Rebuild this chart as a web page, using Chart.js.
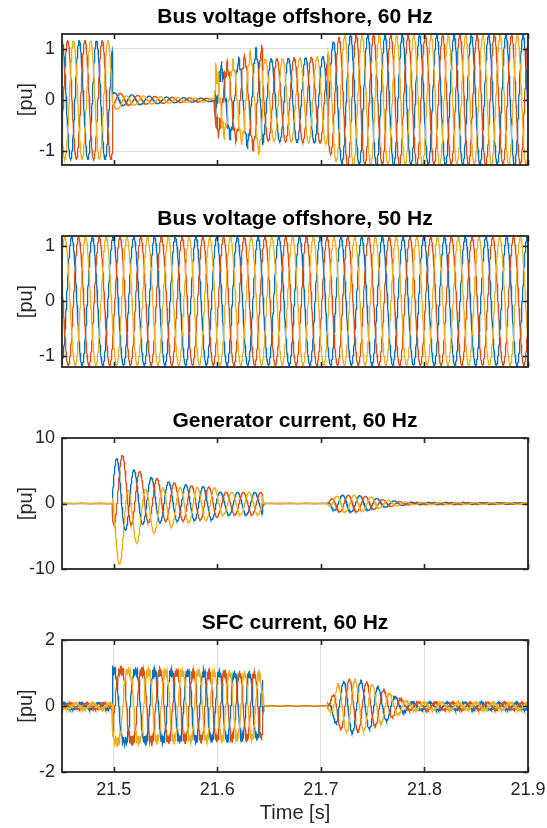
<!DOCTYPE html>
<html>
<head>
<meta charset="utf-8">
<script src="https://cdn.jsdelivr.net/npm/chart.js@4.4.1/dist/chart.umd.min.js"></script>
<style>
  html, body { margin: 0; padding: 0; background: #fff; }
  #wrap { position: relative; width: 547px; height: 828px; }
  canvas { position: absolute; left: 0; }
</style>
</head>
<body>
<div id="wrap">
  <canvas id="c1" width="547" height="202" style="top:0"></canvas>
  <canvas id="c2" width="547" height="202" style="top:202px"></canvas>
  <canvas id="c3" width="547" height="202" style="top:404px"></canvas>
  <canvas id="c4" width="547" height="222" style="top:606px"></canvas>
</div>
<script>
// time axis
const T_START = 21.45, T_END = 21.9, DT = 0.0002;
const xTicks = [21.5, 21.6, 21.7, 21.8, 21.9];
const phaseColors = ['#0072BD', '#D95319', '#EDB120'];

// ---- Bus voltage offshore, 60 Hz ----
const bus60Title = 'Bus voltage offshore, 60 Hz';
const bus60YRange = [-1.27, 1.29];
const bus60YTicks = [-1, 0, 1];
const bus60SegStart = [21.45, 21.4985, 21.598, 21.644, 21.707];
const bus60SegPeak  = [21.450, 21.5010, 21.6040, 21.6520, 21.7120]; // blue crest per segment
const bus60FreqT = [21.45, 21.9];
const bus60FreqV = [60, 60];
const bus60AmpT = [21.45, 21.4984, 21.4986, 21.53, 21.56, 21.597, 21.5985, 21.62, 21.643, 21.6445, 21.706, 21.7075, 21.714, 21.725, 21.9];
const bus60AmpV = [1.16, 1.16, 0.13, 0.08, 0.05, 0.03, 0.55, 0.75, 1.0, 0.8, 0.85, 1.0, 1.2, 1.27, 1.27];
const bus60OffT = [21.45, 21.4984, 21.4986, 21.52, 21.9];
const bus60OffV = [[0, 0, 0.02, 0, 0], [0, 0, 0.02, 0, 0], [0, 0, -0.07, 0, 0]];
const bus60RipT = [21.45, 21.5979, 21.598, 21.612, 21.6435, 21.6445, 21.9];
const bus60RipV = [0, 0, 0.2, 0.1, 0.08, 0, 0];
const bus60RipH = 7;

// ---- Bus voltage offshore, 50 Hz ----
const bus50Title = 'Bus voltage offshore, 50 Hz';
const bus50YRange = [-1.19, 1.18];
const bus50YTicks = [-1, 0, 1];
const bus50SegStart = [21.45];
const bus50SegPeak  = [21.4594];
const bus50FreqT = [21.45, 21.9];
const bus50FreqV = [50, 50];
const bus50AmpT = [21.45, 21.9];
const bus50AmpV = [1.16, 1.16];

// ---- Generator current, 60 Hz ----
const genTitle = 'Generator current, 60 Hz';
const genYRange = [-10, 10];
const genYTicks = [-10, 0, 10];
const genSegStart = [21.45, 21.4985, 21.644, 21.706];
const genSegPeak  = [21.450, 21.5030, 21.6500, 21.7210];
const genFreqT = [21.45, 21.9];
const genFreqV = [60, 60];
const genAmpT = [21.45, 21.4984, 21.4986, 21.51, 21.52, 21.53, 21.54, 21.55, 21.56, 21.57, 21.58, 21.598, 21.6015, 21.6435, 21.6445, 21.706, 21.712, 21.72, 21.735, 21.748, 21.76, 21.775, 21.79, 21.9];
const genAmpV = [0.03, 0.03, 6.0, 5.2, 4.3, 3.7, 3.4, 3.1, 2.9, 2.75, 2.6, 2.45, 1.75, 1.7, 0.02, 0.02, 1.0, 1.3, 1.25, 1.0, 0.6, 0.3, 0.18, 0.12];
const genOffT = [21.45, 21.4984, 21.4986, 21.52, 21.54, 21.57, 21.6, 21.9];
const genOffV = [
  [0, 0, 1.3, 0.8, 0.4, 0.1, 0, 0],
  [0, 0, 2.9, 1.1, 0.5, 0.1, 0, 0],
  [0, 0, -4.6, -2.0, -1.0, -0.2, 0, 0]
];

// ---- SFC current, 60 Hz ----
const sfcTitle = 'SFC current, 60 Hz';
const sfcYRange = [-2, 2];
const sfcYTicks = [-2, 0, 2];
const sfcSegStart = [21.45, 21.4985, 21.644, 21.707];
const sfcSegPeak  = [21.452, 21.4990, 21.650, 21.722];
const sfcFreqT = [21.45, 21.4984, 21.4986, 21.54, 21.643, 21.644, 21.9];
const sfcFreqV = [60, 60, 40, 60, 72, 60, 60];
const sfcAmpT = [21.45, 21.4984, 21.4986, 21.52, 21.6, 21.6435, 21.6445, 21.706, 21.709, 21.716, 21.728, 21.745, 21.76, 21.772, 21.785, 21.9];
const sfcAmpV = [0.09, 0.09, 1.1, 1.05, 1.0, 0.95, 0.01, 0.01, 0.15, 0.65, 0.82, 0.72, 0.5, 0.28, 0.12, 0.1];
const sfcFlatT = [21.45, 21.4984, 21.4986, 21.6435, 21.6445, 21.9];
const sfcFlatV = [0, 0, 1.6, 1.0, 0, 0];
const sfcRipT = [21.45, 21.4984, 21.4986, 21.6435, 21.6445, 21.706, 21.71, 21.9];
const sfcRipV = [0.03, 0.03, 0.13, 0.1, 0, 0, 0.03, 0.03];
const sfcRipH = 11;

function lerp(ts, vs, t) {
  if (t <= ts[0]) return vs[0];
  for (let i = 0; i < ts.length - 1; i++) {
    if (t <= ts[i + 1]) return vs[i] + (vs[i + 1] - vs[i]) * (t - ts[i]) / (ts[i + 1] - ts[i]);
  }
  return vs[vs.length - 1];
}

function segIndex(starts, t) {
  let k = 0;
  while (k + 1 < starts.length && t >= starts[k + 1]) k++;
  return k;
}

// one phase of a three-phase trace, built from the envelope knots above
function phaseTrace(cfg, p) {
  const pts = [];
  const n = Math.round((T_END - T_START) / DT);
  let seg = -1, theta = 0;
  for (let i = 0; i <= n; i++) {
    const t = T_START + i * DT;
    const f = lerp(cfg.freqT, cfg.freqV, t);
    const k = segIndex(cfg.segStart, t);
    if (k !== seg) {
      seg = k;
      theta = 2 * Math.PI * f * (t - cfg.segPeak[k]);
    } else {
      theta += 2 * Math.PI * f * DT;
    }
    const ph = theta - p * 2 * Math.PI / 3;
    const a = lerp(cfg.ampT, cfg.ampV, t);
    let c = Math.cos(ph);
    if (cfg.flatT) {
      const kf = lerp(cfg.flatT, cfg.flatV, t);
      if (kf > 0.01) c = Math.tanh(kf * c) / Math.tanh(kf);
    }
    let y = a * c;
    if (cfg.offT) y += lerp(cfg.offT, cfg.offV[p], t);
    if (cfg.ripT) y += lerp(cfg.ripT, cfg.ripV, t) * Math.cos(cfg.ripH * ph);
    pts.push({ x: t, y: y });
  }
  return pts;
}

const framePlugin = {
  id: 'frame',
  afterDatasetsDraw(chart) {
    const { ctx, chartArea: a, scales } = chart;
    ctx.save();
    ctx.strokeStyle = '#262626';
    ctx.lineWidth = 1.6;
    ctx.beginPath();
    scales.y.ticks.forEach(tk => {
      const py = Math.round(scales.y.getPixelForValue(tk.value)) + 0.5;
      ctx.moveTo(a.left, py); ctx.lineTo(a.left + 5, py);
      ctx.moveTo(a.right, py); ctx.lineTo(a.right - 5, py);
    });
    scales.x.ticks.forEach(tk => {
      const px = Math.round(scales.x.getPixelForValue(tk.value)) + 0.5;
      ctx.moveTo(px, a.bottom); ctx.lineTo(px, a.bottom - 5);
      ctx.moveTo(px, a.top); ctx.lineTo(px, a.top + 5);
    });
    ctx.stroke();
    ctx.lineWidth = 1.8;
    ctx.strokeRect(a.left, a.top, a.right - a.left, a.bottom - a.top);
    ctx.restore();
  }
};

const FONT = 'Liberation Sans, Arial, sans-serif';

function makePanel(canvasId, title, yRange, yTicks, cfg, last) {
  const datasets = [0, 1, 2].map(p => ({
    data: phaseTrace(cfg, p),
    borderColor: phaseColors[p],
    borderWidth: 1.3,
    pointRadius: 0,
    tension: 0,
    order: 3 - p
  }));
  const canvas = document.getElementById(canvasId);
  return new Chart(canvas.getContext('2d'), {
    type: 'line',
    data: { datasets },
    plugins: [framePlugin],
    options: {
      responsive: false,
      animation: false,
      devicePixelRatio: 1,
      parsing: false,
      normalized: true,
      events: [],
      layout: { padding: { left: 0, right: 19, top: 0, bottom: 0 } },
      plugins: {
        legend: { display: false },
        tooltip: { enabled: false },
        title: {
          display: true,
          text: title,
          fullSize: false,
          color: '#000',
          font: { family: FONT, size: 21, weight: 'bold' },
          padding: { top: 4.4, bottom: 4.4 }
        }
      },
      scales: {
        x: {
          type: 'linear',
          min: T_START,
          max: T_END,
          afterBuildTicks: axis => { axis.ticks = xTicks.map(v => ({ value: v })); },
          afterFit: axis => {
            axis.height = last ? 56 : 37;
            axis.paddingLeft = 0;
            axis.paddingRight = 0;
          },
          border: { display: false },
          grid: { display: last, color: '#dedede', lineWidth: 1, drawTicks: false },
          ticks: {
            display: last,
            color: '#262626',
            padding: 7,
            maxRotation: 0,
            autoSkip: false,
            font: { family: FONT, size: 18 },
            callback: v => String(v)
          },
          title: {
            display: last,
            text: 'Time [s]',
            color: '#262626',
            font: { family: FONT, size: 20 },
            padding: { top: 0, bottom: 3 }
          }
        },
        y: {
          min: yRange[0],
          max: yRange[1],
          afterBuildTicks: axis => { axis.ticks = yTicks.map(v => ({ value: v })); },
          afterFit: axis => { axis.width = 62; },
          border: { display: false },
          grid: { color: '#dedede', lineWidth: 1, drawTicks: false },
          ticks: {
            color: '#262626',
            padding: 7,
            font: { family: FONT, size: 18 },
            callback: v => String(v)
          },
          title: {
            display: true,
            text: '[pu]',
            color: '#262626',
            font: { family: FONT, size: 20 },
            padding: { top: 14, bottom: 0 }
          }
        }
      }
    }
  });
}

makePanel('c1', bus60Title, bus60YRange, bus60YTicks, {
  segStart: bus60SegStart, segPeak: bus60SegPeak, freqT: bus60FreqT, freqV: bus60FreqV,
  ampT: bus60AmpT, ampV: bus60AmpV, offT: bus60OffT, offV: bus60OffV,
  ripT: bus60RipT, ripV: bus60RipV, ripH: bus60RipH
}, false);

makePanel('c2', bus50Title, bus50YRange, bus50YTicks, {
  segStart: bus50SegStart, segPeak: bus50SegPeak, freqT: bus50FreqT, freqV: bus50FreqV,
  ampT: bus50AmpT, ampV: bus50AmpV
}, false);

makePanel('c3', genTitle, genYRange, genYTicks, {
  segStart: genSegStart, segPeak: genSegPeak, freqT: genFreqT, freqV: genFreqV,
  ampT: genAmpT, ampV: genAmpV, offT: genOffT, offV: genOffV
}, false);

makePanel('c4', sfcTitle, sfcYRange, sfcYTicks, {
  segStart: sfcSegStart, segPeak: sfcSegPeak, freqT: sfcFreqT, freqV: sfcFreqV,
  ampT: sfcAmpT, ampV: sfcAmpV, flatT: sfcFlatT, flatV: sfcFlatV,
  ripT: sfcRipT, ripV: sfcRipV, ripH: sfcRipH
}, true);
</script>
</body>
</html>
